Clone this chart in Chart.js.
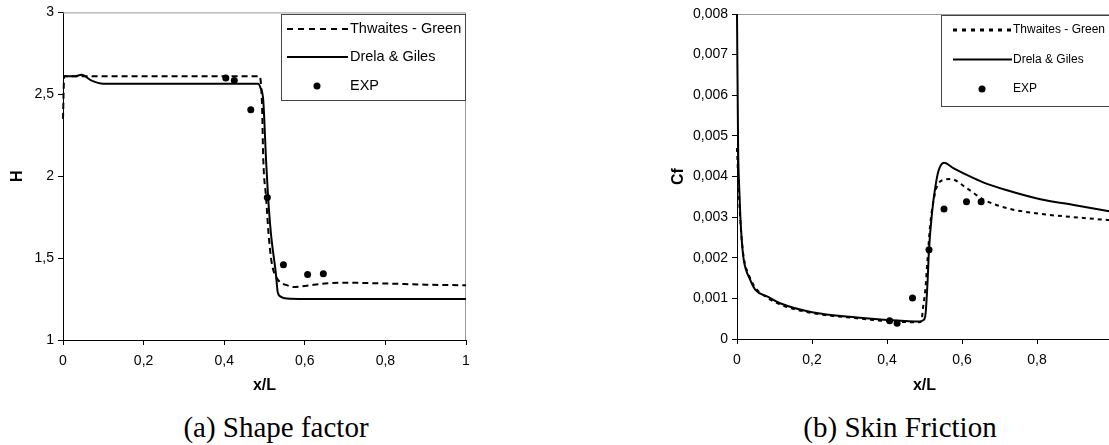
<!DOCTYPE html>
<html>
<head>
<meta charset="utf-8">
<script src="https://cdn.jsdelivr.net/npm/chart.js@4/dist/chart.umd.min.js"></script>
<style>
  body { margin: 0; width: 1109px; height: 445px; overflow: hidden; background: #fff; position: relative; }
  canvas { position: absolute; top: 0; }
  #chartH { left: 0; }
  #chartCf { left: 640px; }
  .caption { position: absolute; top: 411px; font: 29px "Liberation Serif", "Times New Roman", serif; line-height: 33px; color: #000; white-space: nowrap; transform: translateX(-50%); }
</style>
</head>
<body>
<canvas id="chartH" width="480" height="400"></canvas>
<canvas id="chartCf" width="480" height="400"></canvas>
<div class="caption" style="left:276px">(a) Shape factor</div>
<div class="caption" style="left:900px">(b) Skin Friction</div>

<script>
// shape factor H, Thwaites - Green
const hThwaitesX = [0, 0.003, 0.05, 0.2, 0.4, 0.487, 0.491, 0.494, 0.497, 0.504, 0.51, 0.518, 0.53, 0.54, 0.555, 0.571, 0.6, 0.65, 0.7, 0.8, 0.9, 1];
const hThwaitesY = [2.35, 2.61, 2.61, 2.61, 2.61, 2.61, 2.57, 2.42, 2.1, 1.87, 1.65, 1.47, 1.38, 1.35, 1.335, 1.324, 1.33, 1.345, 1.35, 1.345, 1.338, 1.334];

// shape factor H, Drela & Giles
const hDrelaX = [0.003, 0.03, 0.046, 0.07, 0.1, 0.2, 0.4, 0.484, 0.49, 0.497, 0.504, 0.509, 0.516, 0.528, 0.533, 0.54, 0.555, 0.6, 0.8, 1];
const hDrelaY = [2.61, 2.61, 2.62, 2.585, 2.565, 2.565, 2.565, 2.565, 2.54, 2.46, 2.09, 1.87, 1.65, 1.41, 1.29, 1.265, 1.253, 1.25, 1.25, 1.25];

// shape factor H, experiment
const hExpX = [0.404, 0.425, 0.466, 0.507, 0.547, 0.607, 0.646];
const hExpY = [2.6, 2.585, 2.405, 1.87, 1.46, 1.4, 1.405];

// skin friction Cf, Thwaites - Green
const cfThwaitesX = [0, 0.003, 0.006, 0.009, 0.013, 0.018, 0.035, 0.05, 0.08, 0.115, 0.2, 0.32, 0.4, 0.485, 0.492, 0.496, 0.502, 0.508, 0.515, 0.524, 0.533, 0.552, 0.569, 0.613, 0.658, 0.72, 0.809, 0.898, 1];
const cfThwaitesY = [0.0047, 0.004, 0.0034, 0.0029, 0.0024, 0.002, 0.0015, 0.00125, 0.00102, 0.00085, 0.00064, 0.00051, 0.00044, 0.00041, 0.00045, 0.00076, 0.0012, 0.00195, 0.0028, 0.0034, 0.00375, 0.00392, 0.00394, 0.00371, 0.00343, 0.00322, 0.00308, 0.003, 0.00292];

// skin friction Cf, Drela & Giles
const cfDrelaX = [0, 0.003, 0.006, 0.009, 0.013, 0.018, 0.035, 0.049, 0.08, 0.115, 0.2, 0.32, 0.4, 0.489, 0.496, 0.502, 0.508, 0.512, 0.52, 0.529, 0.538, 0.552, 0.578, 0.631, 0.658, 0.72, 0.809, 0.898, 1];
const cfDrelaY = [0.008, 0.0047, 0.0037, 0.003, 0.0024, 0.00195, 0.00146, 0.00121, 0.00105, 0.00088, 0.00066, 0.00053, 0.00047, 0.00043, 0.00046, 0.00056, 0.00138, 0.0022, 0.0031, 0.00375, 0.00416, 0.00434, 0.0042, 0.00396, 0.00385, 0.00366, 0.00344, 0.0033, 0.00313];

// skin friction Cf, experiment
const cfExpX = [0.407, 0.427, 0.468, 0.512, 0.552, 0.612, 0.651];
const cfExpY = [0.00045, 0.00039, 0.00101, 0.0022, 0.0032, 0.00338, 0.00338];

const seriesLabels = ['Thwaites - Green', 'Drela & Giles', 'EXP'];

const toPoints = (xs, ys) => xs.map((x, i) => ({ x: x, y: ys[i] }));
const comma = v => String(+(+v).toFixed(3)).replace('.', ',');

// gray frame on top and right of the plot
const frameLines = {
  id: 'frameLines',
  beforeDatasetsDraw(chart, args, opts) {
    const { ctx, chartArea: a } = chart;
    ctx.save();
    ctx.strokeStyle = opts.color || '#999';
    ctx.lineWidth = 1;
    ctx.beginPath();
    ctx.moveTo(a.left, a.top + 0.5);
    ctx.lineTo(a.right - 0.5, a.top + 0.5);
    ctx.lineTo(a.right - 0.5, a.bottom);
    ctx.stroke();
    ctx.restore();
  }
};

// boxed legend inside the plot
const boxLegend = {
  id: 'boxLegend',
  afterDraw(chart, args, o) {
    const ctx = chart.ctx;
    const a = chart.chartArea;
    const x = o.left, y = o.top, w = a.right - o.left, h = o.height;
    ctx.save();
    ctx.fillStyle = '#fff';
    ctx.fillRect(x, y, w, h);
    ctx.strokeStyle = '#444';
    ctx.lineWidth = 1;
    ctx.strokeRect(x + 0.5, y + 0.5, w - 1, h - 1);
    ctx.font = o.font;
    ctx.textBaseline = 'middle';
    ctx.fillStyle = '#000';
    chart.data.datasets.forEach((ds, i) => {
      const ry = o.rows[i];
      if (ds.showLine) {
        ctx.setLineDash(o.dashes[i] || []);
        ctx.lineWidth = o.widths[i];
        ctx.strokeStyle = ds.borderColor;
        ctx.beginPath();
        ctx.moveTo(o.sample[0], ry);
        ctx.lineTo(o.sample[1], ry);
        ctx.stroke();
        ctx.setLineDash([]);
      } else {
        ctx.beginPath();
        ctx.arc(o.dotX, ry, ds.pointRadius, 0, Math.PI * 2);
        ctx.fill();
      }
      ctx.fillText(ds.label, o.textX, ry);
    });
    ctx.restore();
  }
};

const tickFont = { family: 'Liberation Sans, Arial, sans-serif', size: 14 };
const titleFont = { family: 'Liberation Sans, Arial, sans-serif', size: 16, weight: 'bold' };

function makeChart(id, cfg) {
  const ctx = document.getElementById(id).getContext('2d');
  return new Chart(ctx, {
    type: 'scatter',
    data: {
      datasets: [
        { label: seriesLabels[0], data: cfg.thwaites, showLine: true, borderColor: '#000', borderWidth: 2, borderDash: cfg.dash, pointRadius: 0, cubicInterpolationMode: 'monotone', clip: 3 },
        { label: seriesLabels[1], data: cfg.drela, showLine: true, borderColor: '#000', borderWidth: 2, pointRadius: 0, cubicInterpolationMode: 'monotone', clip: 3 },
        { label: seriesLabels[2], data: cfg.exp, showLine: false, backgroundColor: '#000', borderColor: '#000', pointRadius: 3.5, borderWidth: 0 }
      ]
    },
    options: {
      responsive: false,
      animation: false,
      events: [],
      layout: { padding: cfg.padding },
      plugins: {
        legend: { display: false },
        tooltip: { enabled: false },
        frameLines: { color: '#999' },
        boxLegend: cfg.legend
      },
      scales: {
        x: {
          type: 'linear', min: 0, max: 1,
          afterFit: s => { s.height = cfg.xHeight; },
          ticks: {
            stepSize: 0.2, font: tickFont, color: '#000', padding: 8, maxRotation: 0,
            // the right chart is cut off at the window edge, so its last label is not seen
            callback: v => (cfg.hideLast && v >= 1) ? '' : comma(v)
          },
          grid: { drawOnChartArea: false, drawTicks: true, tickLength: 5, color: '#000' },
          border: { color: '#000', width: 1 },
          title: { display: true, text: 'x/L', font: titleFont, color: '#000', padding: { top: 0, bottom: 5 } }
        },
        y: {
          type: 'linear', min: cfg.yMin, max: cfg.yMax,
          afterFit: s => { s.width = cfg.yWidth; },
          ticks: { stepSize: cfg.yStep, font: tickFont, color: '#000', padding: 4, callback: comma },
          grid: { drawOnChartArea: false, drawTicks: true, tickLength: 5, color: '#000' },
          border: { color: '#000', width: 1 },
          title: { display: true, text: cfg.yTitle, font: titleFont, color: '#000', padding: { top: cfg.yTitlePad, bottom: 0 } }
        }
      }
    },
    plugins: [frameLines, boxLegend]
  });
}

// (a) shape factor
makeChart('chartH', {
  thwaites: toPoints(hThwaitesX, hThwaitesY),
  drela: toPoints(hDrelaX, hDrelaY),
  exp: toPoints(hExpX, hExpY),
  dash: [6, 4],
  padding: { top: 11, right: 14, left: 0, bottom: 0 },
  xHeight: 60, yWidth: 63,
  yMin: 1, yMax: 3, yStep: 0.5,
  yTitle: 'H', yTitlePad: 8,
  legend: { left: 281, top: 14, height: 87, rows: [29, 57, 86], sample: [287, 348], dotX: 317, textX: 350,
            font: '14.5px "Liberation Sans", Arial, sans-serif', dashes: [[6, 5], []], widths: [2, 2] }
});

// (b) skin friction
makeChart('chartCf', {
  thwaites: toPoints(cfThwaitesX, cfThwaitesY),
  drela: toPoints(cfDrelaX, cfDrelaY),
  exp: toPoints(cfExpX, cfExpY),
  dash: [4, 4],
  padding: { top: 14, right: 4, left: 0, bottom: 0 },
  xHeight: 61, yWidth: 97,
  yMin: 0, yMax: 0.008, yStep: 0.001,
  yTitle: 'Cf', yTitlePad: 29,
  hideLast: true,
  legend: { left: 301, top: 15, height: 92, rows: [30, 59.5, 89], sample: [313, 372], dotX: 342, textX: 373,
            font: '12px "Liberation Sans", Arial, sans-serif', dashes: [[4, 5], []], widths: [3, 2] }
});
</script>
</body>
</html>
